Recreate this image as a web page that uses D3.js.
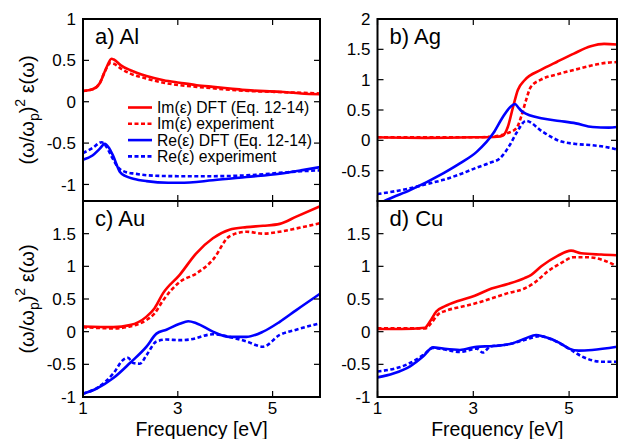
<!DOCTYPE html>
<html><head><meta charset="utf-8">
<script src="https://cdn.jsdelivr.net/npm/d3@7"></script>
<style>
body{margin:0;background:#fff;}
text{font-family:"Liberation Sans",Arial,sans-serif;fill:#000;}
</style></head>
<body><svg id="chart" width="618" height="439"></svg>
<script>
// ---- Data (energy in eV, value of (w/wp)^2 eps) ----
const xTicks = [1, 3, 5];
const yTicksAl = [1, 0.5, 0, -0.5, -1];
const yTicksOther = [2, 1.5, 1, 0.5, 0, -0.5, -1];

const alImDft = [[1,0.13],[1.2,0.15],[1.35,0.22],[1.5,0.42],[1.6,0.52],[1.65,0.51],[1.8,0.44],[2.0,0.38],[2.34,0.31],[2.7,0.26],[3.04,0.23],[3.4,0.2],[3.74,0.18],[4.1,0.16],[4.45,0.14],[5.15,0.12],[5.6,0.1],[6,0.09]];
const alImExp = [[1,0.13],[1.2,0.15],[1.35,0.22],[1.45,0.35],[1.58,0.47],[1.65,0.46],[1.8,0.4],[2.0,0.34],[2.34,0.28],[2.7,0.23],[3.04,0.2],[3.4,0.18],[4.0,0.15],[4.5,0.13],[5.0,0.12],[5.5,0.11],[6,0.1]];
const alReDft = [[1,-0.7],[1.2,-0.65],[1.35,-0.57],[1.46,-0.51],[1.55,-0.56],[1.64,-0.66],[1.78,-0.85],[1.9,-0.9],[2.06,-0.93],[2.34,-0.96],[2.8,-0.98],[3.04,-0.98],[3.74,-0.95],[4.45,-0.91],[5.15,-0.87],[5.6,-0.83],[6,-0.79]];
const alReExp = [[1,-0.62],[1.2,-0.56],[1.39,-0.49],[1.5,-0.55],[1.6,-0.66],[1.75,-0.8],[1.9,-0.85],[2.1,-0.87],[2.38,-0.89],[3.0,-0.9],[3.74,-0.9],[4.45,-0.89],[5.15,-0.86],[5.6,-0.84],[6,-0.83]];

const agImDft = [[1,0.05],[2,0.04],[3,0.05],[3.5,0.06],[3.62,0.08],[3.72,0.22],[3.83,0.55],[3.93,0.83],[4.07,0.99],[4.41,1.16],[4.76,1.3],[5.1,1.43],[5.45,1.55],[5.73,1.59],[6,1.58]];
const agImExp = [[1,0.05],[2,0.05],[3,0.05],[3.38,0.06],[3.72,0.12],[3.9,0.2],[4.0,0.39],[4.1,0.66],[4.2,0.88],[4.41,1.0],[4.76,1.09],[5.1,1.16],[5.45,1.23],[5.8,1.28],[6,1.29]];
const agReDft = [[1,-1.06],[1.2,-0.98],[1.68,-0.82],[2.38,-0.54],[2.72,-0.38],[3.07,-0.19],[3.42,0.12],[3.62,0.39],[3.76,0.54],[3.87,0.6],[3.95,0.53],[4.03,0.47],[4.45,0.36],[4.8,0.32],[5.14,0.28],[5.49,0.22],[5.83,0.21],[6,0.22]];
const agReExp = [[1,-0.885],[1.68,-0.79],[2.03,-0.72],[2.38,-0.65],[2.72,-0.56],[3.07,-0.45],[3.35,-0.37],[3.55,-0.3],[3.76,-0.08],[3.9,0.12],[4.1,0.32],[4.45,0.14],[4.8,-0.01],[5.14,-0.06],[5.49,-0.08],[5.83,-0.12],[6,-0.15]];

const auImDft = [[1,0.08],[1.64,0.07],[1.99,0.1],[2.34,0.23],[2.51,0.36],[2.69,0.59],[3.04,0.87],[3.39,1.2],[3.74,1.43],[4.09,1.56],[4.45,1.6],[4.8,1.62],[5.15,1.65],[5.5,1.76],[6,1.92]];
const auImExp = [[1,0.07],[1.64,0.05],[1.99,0.08],[2.34,0.18],[2.51,0.28],[2.69,0.48],[3.04,0.76],[3.39,0.89],[3.74,1.1],[4.09,1.46],[4.45,1.53],[4.8,1.5],[5.15,1.53],[5.5,1.58],[6,1.66]];
const auReDft = [[1,-0.95],[1.29,-0.87],[1.64,-0.71],[1.99,-0.48],[2.34,-0.23],[2.55,-0.03],[2.76,0.03],[3.04,0.12],[3.22,0.16],[3.39,0.13],[3.74,0.0],[4.09,-0.08],[4.45,-0.08],[4.8,0.0],[5.15,0.15],[5.5,0.33],[6,0.58]];
const auReExp = [[1,-0.95],[1.3,-0.86],[1.64,-0.64],[1.85,-0.43],[1.95,-0.4],[2.06,-0.48],[2.2,-0.49],[2.34,-0.36],[2.55,-0.15],[2.76,-0.12],[3.04,-0.13],[3.25,-0.12],[3.74,-0.04],[4.09,-0.08],[4.45,-0.15],[4.8,-0.23],[5.15,-0.05],[5.5,0.03],[6,0.13]];

const cuImDft = [[1,0.04],[1.5,0.04],[1.99,0.06],[2.09,0.15],[2.23,0.31],[2.41,0.39],[2.68,0.47],[3.03,0.55],[3.38,0.66],[3.72,0.73],[4.07,0.82],[4.21,0.87],[4.42,1.0],[4.76,1.16],[5.04,1.24],[5.25,1.2],[5.67,1.18],[6,1.17]];
const cuImExp = [[1,0.05],[1.5,0.05],[2.0,0.05],[2.12,0.13],[2.26,0.26],[2.47,0.33],[2.75,0.38],[3.03,0.43],[3.38,0.51],[3.72,0.59],[4.07,0.66],[4.28,0.75],[4.55,0.92],[4.83,1.05],[5.1,1.14],[5.38,1.14],[5.73,1.09],[6,1.0]];
const cuReDft = [[1,-0.7],[1.33,-0.64],[1.68,-0.53],[1.95,-0.38],[2.16,-0.24],[2.37,-0.26],[2.72,-0.28],[3.07,-0.23],[3.42,-0.22],[3.76,-0.19],[4.1,-0.1],[4.31,-0.05],[4.45,-0.07],[4.8,-0.17],[5.0,-0.26],[5.2,-0.29],[5.48,-0.28],[6,-0.23]];
const cuReExp = [[1,-0.61],[1.68,-0.48],[1.95,-0.36],[2.16,-0.25],[2.37,-0.27],[2.72,-0.31],[3.07,-0.26],[3.2,-0.32],[3.35,-0.23],[3.76,-0.19],[4.1,-0.12],[4.38,-0.07],[4.73,-0.15],[5.0,-0.26],[5.27,-0.38],[5.68,-0.46],[6,-0.46]];

const legendLabels = ["Im(\u03b5) DFT (Eq. 12-14)", "Im(\u03b5) experiment", "Re(\u03b5) DFT (Eq. 12-14)", "Re(\u03b5) experiment"];

// ---- Drawing ----
const svg = d3.select("#chart");
const RED = "#ff0000", BLUE = "#0000ff";
const DASH = "4,2.5";

const panels = [
  {id:"a", title:"a) Al", x0:83, x1:320, y0:19, y1:201, yDom:[-1.2,1], yTicks:yTicksAl, yLab:yTicksAl, xLab:false, ylabel:true,
   series:[alImDft, alImExp, alReDft, alReExp], legend:true},
  {id:"b", title:"b) Ag", x0:377.5, x1:617, y0:19, y1:201, yDom:[-1,2], yTicks:yTicksOther, yLab:[2,1.5,1,0.5,0,-0.5], xLab:false, ylabel:false,
   series:[agImDft, agImExp, agReDft, agReExp]},
  {id:"c", title:"c) Au", x0:83, x1:320, y0:201, y1:397, yDom:[-1,2], yTicks:yTicksOther, yLab:[1.5,1,0.5,0,-0.5,-1], xLab:true, ylabel:true,
   series:[auImDft, auImExp, auReDft, auReExp]},
  {id:"d", title:"d) Cu", x0:377.5, x1:617, y0:201, y1:397, yDom:[-1,2], yTicks:yTicksOther, yLab:[1.5,1,0.5,0,-0.5,-1], xLab:true, ylabel:false,
   series:[cuImDft, cuImExp, cuReDft, cuReExp]}
];
const styles = [{c:RED,d:null},{c:RED,d:DASH},{c:BLUE,d:null},{c:BLUE,d:DASH}];
const fmt = v => String(v);

panels.forEach(p => {
  const x = d3.scaleLinear().domain([1,6]).range([p.x0,p.x1]);
  const y = d3.scaleLinear().domain(p.yDom).range([p.y1,p.y0]);
  const g = svg.append("g");
  g.append("clipPath").attr("id","clip"+p.id).append("rect")
    .attr("x",p.x0).attr("y",p.y0).attr("width",p.x1-p.x0).attr("height",p.y1-p.y0);
  const line = d3.line().x(d=>x(d[0])).y(d=>y(d[1])).curve(d3.curveMonotoneX);
  const plot = g.append("g").attr("clip-path","url(#clip"+p.id+")");
  p.series.forEach((s,i) => {
    plot.append("path").datum(s).attr("d",line).attr("fill","none")
      .attr("stroke",styles[i].c).attr("stroke-width",2.6)
      .attr("stroke-dasharray",styles[i].d);
  });
  // ticks (inward, all sides)
  const tl = 6;
  const tk = g.append("g").attr("stroke","#000").attr("stroke-width",1.2);
  xTicks.forEach(t => {
    tk.append("line").attr("x1",x(t)).attr("x2",x(t)).attr("y1",p.y1).attr("y2",p.y1-tl);
    tk.append("line").attr("x1",x(t)).attr("x2",x(t)).attr("y1",p.y0).attr("y2",p.y0+tl);
  });
  p.yTicks.forEach(t => {
    if (t < p.yDom[0] || t > p.yDom[1]) return;
    tk.append("line").attr("x1",p.x0).attr("x2",p.x0+tl).attr("y1",y(t)).attr("y2",y(t));
    tk.append("line").attr("x1",p.x1).attr("x2",p.x1-tl).attr("y1",y(t)).attr("y2",y(t));
  });
  // frame
  g.append("rect").attr("x",p.x0).attr("y",p.y0).attr("width",p.x1-p.x0).attr("height",p.y1-p.y0)
    .attr("fill","none").attr("stroke","#000").attr("stroke-width",2);
  // y tick labels
  p.yLab.forEach(t => {
    g.append("text").attr("x",p.x0-7).attr("y",y(t)).attr("dy","0.36em")
      .attr("text-anchor","end").attr("font-size",17).text(fmt(t));
  });
  // x tick labels
  if (p.xLab) {
    xTicks.forEach(t => {
      g.append("text").attr("x",x(t)).attr("y",p.y1+17).attr("text-anchor","middle")
        .attr("font-size",17).text(fmt(t));
    });
    g.append("text").attr("x",(p.x0+p.x1)/2).attr("y",435.5).attr("text-anchor","middle")
      .attr("font-size",19.5).text("Frequency [eV]");
  }
  // title
  g.append("text").attr("x",p.x0+12).attr("y",p.y0+25).attr("font-size",22).text(p.title);
  // y label
  if (p.ylabel) {
    const yl = g.append("text").attr("font-size",20).attr("text-anchor","middle")
      .attr("transform",`translate(34,${(p.y0+p.y1)/2}) rotate(-90)`);
    yl.append("tspan").text("(\u03c9/\u03c9");
    yl.append("tspan").attr("dy",5).attr("font-size",14).text("p");
    yl.append("tspan").attr("dy",-5).text(")");
    yl.append("tspan").attr("dy",-9).attr("font-size",14).text("2");
    yl.append("tspan").attr("dy",9).text(" \u03b5(\u03c9)");
  }
  // legend
  if (p.legend) {
    const lx0 = 128, lx1 = 152, ly = 107.5, step = 16.3;
    legendLabels.forEach((lab,i) => {
      const yy = ly + i*step;
      g.append("line").attr("x1",lx0).attr("x2",lx1).attr("y1",yy).attr("y2",yy)
        .attr("stroke",styles[i].c).attr("stroke-width",2.6).attr("stroke-dasharray",styles[i].d);
      g.append("text").attr("x",157).attr("y",yy).attr("dy","0.36em").attr("font-size",15.7).text(lab);
    });
  }
});
</script></body></html>
